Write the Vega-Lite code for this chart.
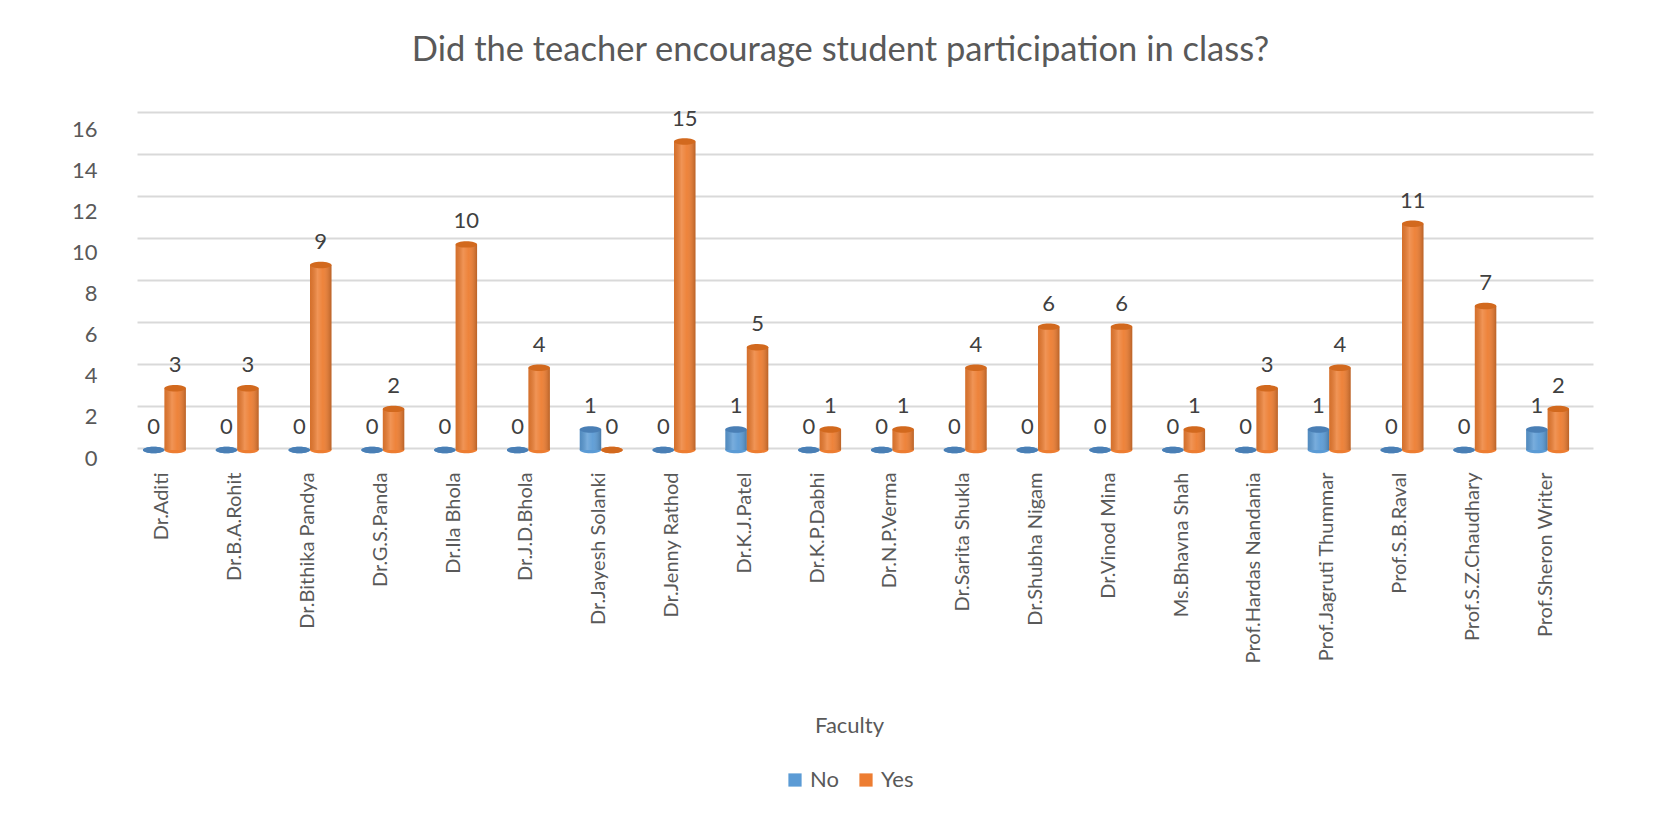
{
  "$schema": "https://vega.github.io/schema/vega-lite/v6.json",
  "width": 1447,
  "height": 329,
  "autosize": {"type": "none"},
  "padding": {"left": 137, "top": 121, "right": 75, "bottom": 364},
  "background": "white",
  "title": {
    "text": "Did the teacher encourage student participation in class?",
    "font": "Lato",
    "fontSize": 34.5,
    "fontWeight": "normal",
    "color": "#595959",
    "anchor": "middle",
    "offset": 39,
    "dx": -20
  },
  "config": {
    "font": "Lato",
    "view": {"stroke": null},
    "axis": {"labelFont": "Lato", "titleFont": "Lato"},
    "legend": {"labelFont": "Lato"}
  },
  "data": {
    "values": [
      {"Faculty": "Dr.Aditi", "Response": "No", "Count": 0},
      {"Faculty": "Dr.Aditi", "Response": "Yes", "Count": 3},
      {"Faculty": "Dr.B.A.Rohit", "Response": "No", "Count": 0},
      {"Faculty": "Dr.B.A.Rohit", "Response": "Yes", "Count": 3},
      {"Faculty": "Dr.Bithika Pandya", "Response": "No", "Count": 0},
      {"Faculty": "Dr.Bithika Pandya", "Response": "Yes", "Count": 9},
      {"Faculty": "Dr.G.S.Panda", "Response": "No", "Count": 0},
      {"Faculty": "Dr.G.S.Panda", "Response": "Yes", "Count": 2},
      {"Faculty": "Dr.Ila Bhola", "Response": "No", "Count": 0},
      {"Faculty": "Dr.Ila Bhola", "Response": "Yes", "Count": 10},
      {"Faculty": "Dr.J.D.Bhola", "Response": "No", "Count": 0},
      {"Faculty": "Dr.J.D.Bhola", "Response": "Yes", "Count": 4},
      {"Faculty": "Dr.Jayesh Solanki", "Response": "No", "Count": 1},
      {"Faculty": "Dr.Jayesh Solanki", "Response": "Yes", "Count": 0},
      {"Faculty": "Dr.Jenny Rathod", "Response": "No", "Count": 0},
      {"Faculty": "Dr.Jenny Rathod", "Response": "Yes", "Count": 15},
      {"Faculty": "Dr.K.J.Patel", "Response": "No", "Count": 1},
      {"Faculty": "Dr.K.J.Patel", "Response": "Yes", "Count": 5},
      {"Faculty": "Dr.K.P.Dabhi", "Response": "No", "Count": 0},
      {"Faculty": "Dr.K.P.Dabhi", "Response": "Yes", "Count": 1},
      {"Faculty": "Dr.N.P.Verma", "Response": "No", "Count": 0},
      {"Faculty": "Dr.N.P.Verma", "Response": "Yes", "Count": 1},
      {"Faculty": "Dr.Sarita Shukla", "Response": "No", "Count": 0},
      {"Faculty": "Dr.Sarita Shukla", "Response": "Yes", "Count": 4},
      {"Faculty": "Dr.Shubha Nigam", "Response": "No", "Count": 0},
      {"Faculty": "Dr.Shubha Nigam", "Response": "Yes", "Count": 6},
      {"Faculty": "Dr.Vinod Mina", "Response": "No", "Count": 0},
      {"Faculty": "Dr.Vinod Mina", "Response": "Yes", "Count": 6},
      {"Faculty": "Ms.Bhavna Shah", "Response": "No", "Count": 0},
      {"Faculty": "Ms.Bhavna Shah", "Response": "Yes", "Count": 1},
      {"Faculty": "Prof.Hardas Nandania", "Response": "No", "Count": 0},
      {"Faculty": "Prof.Hardas Nandania", "Response": "Yes", "Count": 3},
      {"Faculty": "Prof.Jagruti Thummar", "Response": "No", "Count": 1},
      {"Faculty": "Prof.Jagruti Thummar", "Response": "Yes", "Count": 4},
      {"Faculty": "Prof.S.B.Raval", "Response": "No", "Count": 0},
      {"Faculty": "Prof.S.B.Raval", "Response": "Yes", "Count": 11},
      {"Faculty": "Prof.S.Z.Chaudhary", "Response": "No", "Count": 0},
      {"Faculty": "Prof.S.Z.Chaudhary", "Response": "Yes", "Count": 7},
      {"Faculty": "Prof.Sheron Writer", "Response": "No", "Count": 1},
      {"Faculty": "Prof.Sheron Writer", "Response": "Yes", "Count": 2}
    ]
  },
  "encoding": {
    "x": {
      "field": "Faculty",
      "type": "nominal",
      "sort": null,
      "scale": {"paddingInner": 0.41, "paddingOuter": 0.205, "range": [-9, 1447]},
      "axis": {
        "labelAngle": -90,
        "labelFontSize": 20,
        "labelLimit": 400,
        "labelColor": "#595959",
        "labelPadding": 22,
        "labelOffset": -2,
        "domain": false,
        "ticks": false,
        "title": "Faculty",
        "titleFontSize": 22,
        "titleFontWeight": "normal",
        "titleColor": "#595959",
        "titlePadding": 65,
        "titleX": 712,
        "titleAnchor": "middle"
      }
    }
  },
  "layer": [
    {
      "mark": {"type": "rule", "opacity": 0},
      "encoding": {
        "y": {
          "field": "Count",
          "type": "quantitative",
          "scale": {"domain": [0, 16], "nice": false, "range": [327, -9]},
          "axis": {
            "orient": "right",
            "values": [0, 2, 4, 6, 8, 10, 12, 14, 16],
            "domain": false,
            "ticks": false,
            "labels": false,
            "grid": true,
            "gridColor": "#D9D9D9",
            "gridWidth": 2,
            "title": null
          }
        }
      }
    },
    {
      "encoding": {
        "xOffset": {"field": "Response", "type": "nominal", "scale": {"paddingInner": 0, "paddingOuter": 0}},
        "y": {
          "field": "Count",
          "type": "quantitative",
          "scale": {"domain": [0, 16], "nice": false},
          "axis": {
            "orient": "left",
            "values": [0, 2, 4, 6, 8, 10, 12, 14, 16],
            "domain": false,
            "ticks": false,
            "grid": false,
            "labelFontSize": 22,
            "labelColor": "#595959",
            "labelPadding": 40,
            "labelOffset": 8,
            "title": null
          }
        }
      },
      "layer": [
        {
          "mark": {
            "type": "point",
            "filled": true,
            "opacity": 1,
            "strokeWidth": 0,
            "size": 462,
            "shape": "M -1 0 A 1 0.3 0 1 0 1 0 A 1 0.3 0 1 0 -1 0 Z"
          },
          "encoding": {
            "y": {"datum": 0},
            "color": {
              "field": "Response",
              "type": "nominal",
              "scale": {"domain": ["No", "Yes"], "range": ["#5B9BD5", "#ED7D31"]},
              "legend": null
            }
          }
        },
        {
          "mark": {"type": "bar"},
          "encoding": {
            "color": {
              "field": "Response",
              "type": "nominal",
              "scale": {"domain": ["No", "Yes"], "range": ["#5B9BD5", "#ED7D31"]},
              "legend": {
                "title": null,
                "orient": "none",
                "direction": "horizontal",
                "legendX": 647,
                "legendY": 648,
                "symbolType": "square",
                "symbolSize": 175,
                "symbolStrokeWidth": 0,
                "labelFontSize": 22,
                "labelColor": "#595959",
                "columnPadding": 16
              }
            }
          }
        },
        {
          "mark": {
            "type": "bar",
            "color": {
              "gradient": "linear",
              "x1": 0, "y1": 0, "x2": 1, "y2": 0,
              "stops": [
                {"offset": 0, "color": "rgba(0,0,0,0.10)"},
                {"offset": 0.35, "color": "rgba(255,255,255,0.18)"},
                {"offset": 0.6, "color": "rgba(255,255,255,0.05)"},
                {"offset": 1, "color": "rgba(0,0,0,0.22)"}
              ]
            }
          }
        },
        {
          "mark": {
            "type": "point",
            "filled": true,
            "opacity": 1,
            "strokeWidth": 0,
            "size": 462,
            "shape": "M -1 0 A 1 0.3 0 1 0 1 0 A 1 0.3 0 1 0 -1 0 Z"
          },
          "encoding": {
            "color": {
              "field": "Response",
              "type": "nominal",
              "scale": {"domain": ["No", "Yes"], "range": ["#4A7FB5", "#D2691E"]},
              "legend": null
            }
          }
        },
        {
          "mark": {
            "type": "text",
            "baseline": "middle",
            "dy": -23,
            "fontSize": 22,
            "color": "#404040",
            "font": "Lato"
          },
          "encoding": {
            "text": {"field": "Count", "type": "quantitative"}
          }
        }
      ],
      "resolve": {"scale": {"color": "independent"}}
    }
  ],
  "resolve": {"scale": {"y": "independent"}}
}
